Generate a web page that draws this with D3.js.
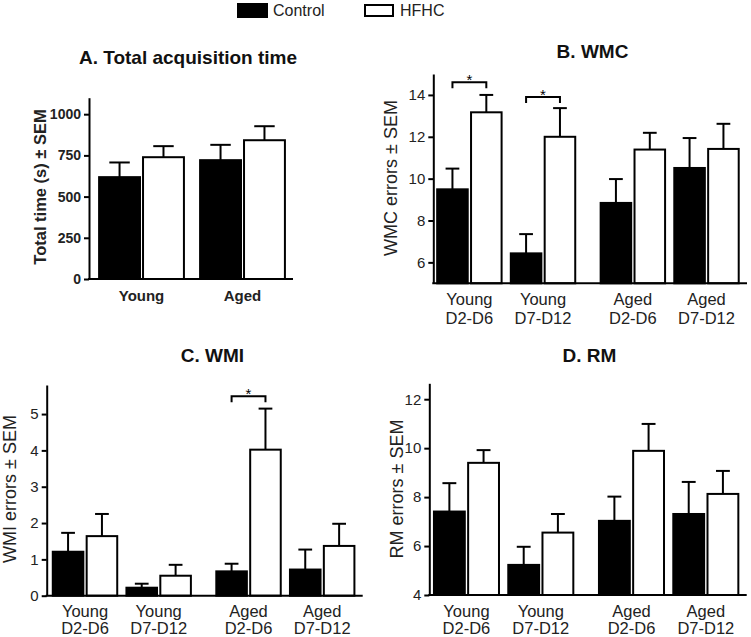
<!DOCTYPE html>
<html><head><meta charset="utf-8">
<script src="https://cdn.jsdelivr.net/npm/d3@7"></script>
<style>
html,body{margin:0;padding:0;background:#fff;}
svg{display:block;font-family:"Liberation Sans",Arial,sans-serif;}
</style></head>
<body><svg id="c" width="751" height="637"></svg>
<script>
// ---------- data ----------
const seriesNames = ["Control", "HFHC"];

// Panel A
const groupsA = ["Young", "Aged"];
const controlA = [618, 721];
const controlSemA = [89, 93];
const hfhcA = [739, 842];
const hfhcSemA = [67, 85];
const ticksA = [0, 250, 500, 750, 1000];

// Panels B-D share categories
const ageLabels = ["Young", "Young", "Aged", "Aged"];
const dayLabels = ["D2-D6", "D7-D12", "D2-D6", "D7-D12"];

// Panel B: WMC
const controlB = [9.49, 6.43, 8.84, 10.51];
const controlSemB = [0.99, 0.92, 1.14, 1.43];
const hfhcB = [13.17, 12.0, 11.39, 11.42];
const hfhcSemB = [0.83, 1.37, 0.80, 1.20];
const ticksB = [6, 8, 10, 12, 14];
const sigB = [{group: 0, level: 14.6}, {group: 1, level: 13.9}];

// Panel C: WMI
const controlC = [1.21, 0.22, 0.67, 0.72];
const controlSemC = [0.52, 0.11, 0.21, 0.55];
const hfhcC = [1.64, 0.55, 4.02, 1.37];
const hfhcSemC = [0.61, 0.30, 1.13, 0.61];
const ticksC = [0, 1, 2, 3, 4, 5];
const sigC = [{group: 2, level: 5.49}];

// Panel D: RM
const controlD = [7.41, 5.23, 7.03, 7.31];
const controlSemD = [1.16, 0.74, 0.99, 1.31];
const hfhcD = [9.40, 6.55, 9.89, 8.13];
const hfhcSemD = [0.52, 0.76, 1.10, 0.94];
const ticksD = [4, 6, 8, 10, 12];

// ---------- drawing ----------
const svg = d3.select("#c");
const INK = "#111";

function legend() {
  const items = [
    {name: seriesNames[0], fill: "#000", x: 238, y: 4, w: 29, h: 13, tx: 273},
    {name: seriesNames[1], fill: "#fff", x: 365, y: 5, w: 28, h: 11, tx: 400}
  ];
  const g = svg.append("g");
  items.forEach(it => {
    g.append("rect").attr("x", it.x).attr("y", it.y).attr("width", it.w).attr("height", it.h)
      .attr("fill", it.fill).attr("stroke", "#000").attr("stroke-width", 2);
    g.append("text").attr("x", it.tx).attr("y", 16).attr("font-size", 16).attr("fill", "#222").text(it.name);
  });
}

function panel(cfg) {
  const g = svg.append("g");
  const y = d3.scaleLinear().domain(cfg.yDomain).range([cfg.yBottom, cfg.yTop]);
  const x = d3.scaleLinear().domain(cfg.xDomain).range([cfg.xLeft, cfg.xRight]);
  const step = x(1) - x(0);
  const bw = cfg.barFrac * step;
  const gap = cfg.gapFrac * step;
  const center = i => x(cfg.pos(i));
  const series = [
    {vals: cfg.control, sem: cfg.controlSem, fill: "#000", off: -gap / 2 - bw},
    {vals: cfg.hfhc, sem: cfg.hfhcSem, fill: "#fff", off: gap / 2}
  ];
  const base = cfg.yDomain[0];
  series.forEach(s => {
    s.vals.forEach((v, i) => {
      const bx = center(i) + s.off;
      const cx = bx + bw / 2;
      g.append("line").attr("x1", cx).attr("x2", cx).attr("y1", y(v)).attr("y2", y(v + s.sem[i]))
        .attr("stroke", "#000").attr("stroke-width", 2);
      g.append("line").attr("x1", cx - bw * cfg.capFrac / 2).attr("x2", cx + bw * cfg.capFrac / 2)
        .attr("y1", y(v + s.sem[i])).attr("y2", y(v + s.sem[i]))
        .attr("stroke", "#000").attr("stroke-width", 2);
      g.append("rect").attr("x", bx).attr("y", y(v)).attr("width", bw).attr("height", y(base) - y(v))
        .attr("fill", s.fill).attr("stroke", "#000").attr("stroke-width", 2);
    });
  });
  (cfg.sig || []).forEach(sg => {
    const x1 = center(sg.group) + series[0].off + bw / 2;
    const x2 = center(sg.group) + series[1].off + bw / 2;
    const yy = y(sg.level);
    g.append("path").attr("d", `M${x1},${yy + 6}V${yy}H${x2}V${yy + 6}`)
      .attr("fill", "none").attr("stroke", "#000").attr("stroke-width", 2);
    g.append("text").attr("x", (x1 + x2) / 2).attr("y", yy + 3).attr("text-anchor", "middle")
      .attr("font-size", 15).attr("fill", "#000").text("*");
  });
  const ax = g.append("g").attr("transform", `translate(${cfg.xLeft},0)`)
    .call(d3.axisLeft(y).tickValues(cfg.ticks).tickFormat(d3.format("d"))
      .tickSize(5).tickSizeOuter(0).tickPadding(3));
  ax.select(".domain").attr("stroke", "#000").attr("stroke-width", 2);
  ax.selectAll(".tick line").attr("stroke", "#000").attr("stroke-width", 2);
  ax.selectAll(".tick text").attr("font-size", cfg.tickSize).attr("fill", "#222")
    .attr("font-weight", cfg.bold ? "bold" : "normal")
    .attr("font-family", '"Liberation Sans",Arial,sans-serif');
  g.append("line").attr("x1", cfg.xLeft - 1).attr("x2", cfg.xRight).attr("y1", y(base)).attr("y2", y(base))
    .attr("stroke", "#000").attr("stroke-width", 2);
  cfg.labels.forEach((lines, i) => {
    lines.forEach((t, k) => {
      g.append("text").attr("x", center(i)).attr("y", cfg.labelBase[k]).attr("text-anchor", "middle")
        .attr("font-size", cfg.labelSize).attr("fill", "#222")
        .attr("font-weight", cfg.bold ? "bold" : "normal").text(t);
    });
  });
  g.append("text").attr("x", cfg.titleX).attr("y", cfg.titleY).attr("text-anchor", "middle")
    .attr("font-size", 19).attr("font-weight", "bold").attr("fill", INK).text(cfg.title);
  g.append("text").attr("transform", `translate(${cfg.ylabX},${cfg.ylabY}) rotate(-90)`)
    .attr("dy", "0.35em").attr("text-anchor", "middle").attr("font-size", cfg.ylabSize)
    .attr("font-weight", cfg.bold ? "bold" : "normal").attr("fill", "#222").text(cfg.ylab);
}

legend();

const gapPos = i => i + (i >= 2 ? 0.22 : 0);
const fourLabels = ageLabels.map((a, i) => [a, dayLabels[i]]);

panel({
  title: "A. Total acquisition time", titleX: 188, titleY: 64,
  ylab: "Total time (s) \u00b1 SEM", ylabX: 40, ylabY: 187, ylabSize: 16.5,
  yDomain: [0, 1100], yBottom: 279, yTop: 97.7, ticks: ticksA, tickSize: 14,
  xDomain: [-0.52, 1.5], xLeft: 89, xRight: 293, pos: i => i,
  barFrac: 0.405, gapFrac: 0.03, capFrac: 0.5,
  control: controlA, controlSem: controlSemA, hfhc: hfhcA, hfhcSem: hfhcSemA,
  labels: groupsA.map(a => [a]), labelBase: [301], labelSize: 15, bold: true
});

panel({
  title: "B. WMC", titleX: 592.5, titleY: 58,
  ylab: "WMC errors \u00b1 SEM", ylabX: 391, ylabY: 178, ylabSize: 18,
  yDomain: [5, 15], yBottom: 283.3, yTop: 74, ticks: ticksB, tickSize: 15,
  xDomain: [-0.49, 3.77], xLeft: 433.3, xRight: 747, pos: gapPos,
  barFrac: 0.415, gapFrac: 0.045, capFrac: 0.45,
  control: controlB, controlSem: controlSemB, hfhc: hfhcB, hfhcSem: hfhcSemB, sig: sigB,
  labels: fourLabels, labelBase: [305, 324], labelSize: 16.5, bold: false
});

panel({
  title: "C. WMI", titleX: 212.5, titleY: 361.7,
  ylab: "WMI errors \u00b1 SEM", ylabX: 9.5, ylabY: 489, ylabSize: 18,
  yDomain: [0, 5.8], yBottom: 595.7, yTop: 385, ticks: ticksC, tickSize: 15,
  xDomain: [-0.52, 3.77], xLeft: 46.7, xRight: 362.7, pos: gapPos,
  barFrac: 0.415, gapFrac: 0.045, capFrac: 0.45,
  control: controlC, controlSem: controlSemC, hfhc: hfhcC, hfhcSem: hfhcSemC, sig: sigC,
  labels: fourLabels, labelBase: [616.5, 634], labelSize: 16.5, bold: false
});

panel({
  title: "D. RM", titleX: 589.5, titleY: 361.7,
  ylab: "RM errors \u00b1 SEM", ylabX: 396.7, ylabY: 489, ylabSize: 18,
  yDomain: [4, 12.65], yBottom: 595, yTop: 383.3, ticks: ticksD, tickSize: 15,
  xDomain: [-0.5, 3.77], xLeft: 429.3, xRight: 746.7, pos: gapPos,
  barFrac: 0.415, gapFrac: 0.045, capFrac: 0.45,
  control: controlD, controlSem: controlSemD, hfhc: hfhcD, hfhcSem: hfhcSemD,
  labels: fourLabels, labelBase: [616.5, 634], labelSize: 16.5, bold: false
});
</script>
</body></html>
